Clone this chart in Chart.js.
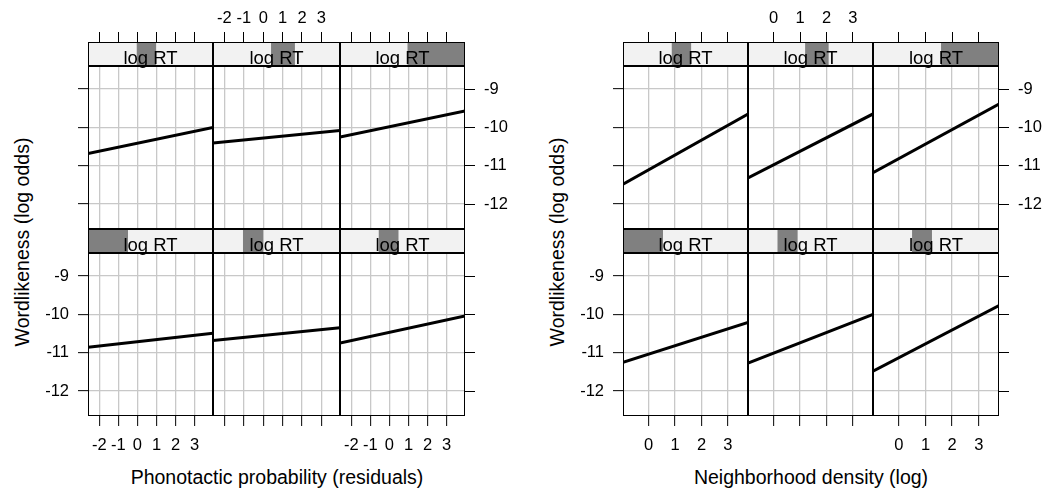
<!DOCTYPE html>
<html>
<head>
<meta charset="utf-8">
<script src="https://cdn.jsdelivr.net/npm/chart.js"></script>
<style>
  html, body { margin: 0; padding: 0; background: #fff; }
  #plot { position: relative; width: 1043px; height: 490px; overflow: hidden; font-family: "Liberation Sans", Arial, sans-serif; }
  #plot canvas { position: absolute; }
  .xlab, .ylab { position: absolute; font-size: 19.5px; line-height: 20px; white-space: nowrap; color: #000; }
  .xlab { transform: translateX(-50%); }
  .ylab { transform: translate(-50%, -50%) rotate(-90deg); }
</style>
</head>
<body>
<div id="plot"></div>
<script>
// log RT shingle levels (share of the log RT range), lattice order: bottom-left panel first
const shingleLevels = [[0, 0.32], [0.236, 0.397], [0.31, 0.468], [0.39, 0.545], [0.457, 0.645], [0.54, 1]];
const stripLabel = "log RT";

// fitted wordlikeness at the left and right end of each panel (same panel order)
const phonoRange = [-2.59, 3.96];
const phonoTicks = [-2, -1, 0, 1, 2, 3];
const phonoStart = [-10.86, -10.68, -10.75, -10.68, -10.41, -10.25];
const phonoEnd = [-10.49, -10.35, -10.04, -10.0, -10.08, -9.57];

const densRange = [-0.97, 3.76];
const densTicks = [0, 1, 2, 3];
const densStart = [-11.25, -11.27, -11.48, -11.48, -11.32, -11.18];
const densEnd = [-10.21, -10.0, -9.77, -9.65, -9.65, -9.39];

const yRange = [-12.65, -8.4];
const yTicks = [-12, -11, -10, -9];

const yTitle = "Wordlikeness (log odds)";

// layout
const ROW_TOP = [42, 229];
const STRIP_H = 24;
const PANEL_H = 163;
const GRID = "#c8c8c8";
const STRIP_BG = "#f2f2f2";
const STRIP_FG = "#808080";
const FONT = "'Liberation Sans', Arial, sans-serif";
const tickFont = { family: FONT, size: 16.5 };

const figures = [
  { colLeft: [88, 213, 340], colWidth: [125, 127, 125], range: phonoRange, ticks: phonoTicks,
    start: phonoStart, end: phonoEnd, xlab: "Phonotactic probability (residuals)", xlabX: 277, ylabX: 21.5 },
  { colLeft: [623, 748, 873], colWidth: [125, 125, 126], range: densRange, ticks: densTicks,
    start: densStart, end: densEnd, xlab: "Neighborhood density (log)", xlabX: 811, ylabX: 556.5 }
];

const host = document.getElementById("plot");

// fixed axis box size, and no extra label padding pushed into the chart area
const fixSize = (size) => (s) => {
  if (s.isHorizontal()) s.height = size; else s.width = size;
  s.paddingTop = s.paddingBottom = s.paddingLeft = s.paddingRight = 0;
};

function stripPlugin(level) {
  return {
    id: "strip",
    afterDraw(chart) {
      const s = chart.scales.strip, a = chart.chartArea, ctx = chart.ctx;
      const top = s.top, bottom = s.bottom;
      ctx.save();
      ctx.fillStyle = STRIP_BG;
      ctx.fillRect(a.left, top, a.right - a.left, bottom - top);
      const x0 = s.getPixelForValue(level[0]), x1 = s.getPixelForValue(level[1]);
      ctx.fillStyle = STRIP_FG;
      ctx.fillRect(x0, top, x1 - x0, bottom - top);
      ctx.fillStyle = "#000";
      ctx.font = "18.5px " + FONT;
      ctx.textAlign = "center";
      ctx.textBaseline = "alphabetic";
      ctx.fillText(stripLabel, (a.left + a.right) / 2, bottom - 2.5);
      // frames
      ctx.strokeStyle = "#000";
      ctx.lineWidth = 1;
      ctx.strokeRect(a.left + 0.5, top + 0.5, a.right - a.left - 1, bottom - top - 1);
      ctx.strokeRect(a.left + 0.5, a.top + 0.5, a.right - a.left - 1, a.bottom - a.top - 1);
      ctx.restore();
    }
  };
}

function makePanel(fig, row, col) {
  const idx = (1 - row) * 3 + col;
  const L = col === 0 ? 55 : 0, R = col === 2 ? 55 : 0;
  const T = row === 0 ? 42 : 0, B = row === 1 ? 45 : 0;
  const W = fig.colWidth[col];
  const canvas = document.createElement("canvas");
  canvas.width = L + W + R;
  canvas.height = T + STRIP_H + PANEL_H + B;
  canvas.style.left = (fig.colLeft[col] - L) + "px";
  canvas.style.top = (ROW_TOP[row] - T) + "px";
  host.appendChild(canvas);

  const setX = (s) => { s.ticks = fig.ticks.map(v => ({ value: v })); };
  const setY = (s) => { s.ticks = yTicks.map(v => ({ value: v })); };
  const fmt = (v) => String(v);

  const scales = {
    x: {
      type: "linear", position: "bottom", min: fig.range[0], max: fig.range[1],
      afterBuildTicks: setX, afterFit: fixSize(B),
      grid: { color: GRID, lineWidth: 1.3, drawTicks: row === 1, tickLength: 10, tickColor: "#000", tickWidth: 1 },
      border: { display: false },
      ticks: { display: row === 1 && col !== 1, autoSkip: false, maxRotation: 0, padding: 10, color: "#000", font: tickFont, callback: fmt }
    },
    strip: {
      type: "linear", position: "top", weight: 0, min: 0, max: 1,
      afterFit: fixSize(STRIP_H),
      grid: { display: false }, border: { display: false }, ticks: { display: false }
    },
    y: {
      type: "linear", position: "left", min: yRange[0], max: yRange[1],
      afterBuildTicks: setY, afterFit: fixSize(L),
      grid: { color: GRID, lineWidth: 1.3, drawTicks: col === 0, tickLength: 10, tickColor: "#000", tickWidth: 1 },
      border: { display: false },
      ticks: { display: col === 0 && row === 1, padding: 9, color: "#000", font: tickFont, callback: fmt }
    }
  };
  if (row === 0) {
    scales.xTop = {
      type: "linear", position: "top", weight: 1, min: fig.range[0], max: fig.range[1],
      afterBuildTicks: setX, afterFit: fixSize(T),
      grid: { drawOnChartArea: false, tickLength: 10, tickColor: "#000", tickWidth: 1 },
      border: { display: false },
      ticks: { display: col === 1, autoSkip: false, maxRotation: 0, padding: 4, color: "#000", font: tickFont, callback: fmt }
    };
  }
  if (col === 2) {
    scales.y2 = {
      type: "linear", position: "right", min: yRange[0], max: yRange[1],
      afterBuildTicks: setY, afterFit: fixSize(R),
      grid: { drawOnChartArea: false, tickLength: 10, tickColor: "#000", tickWidth: 1 },
      border: { display: false },
      ticks: { display: row === 0, padding: 9, color: "#000", font: tickFont, callback: fmt }
    };
  }

  new Chart(canvas, {
    type: "line",
    data: {
      datasets: [{
        data: [{ x: fig.range[0], y: fig.start[idx] }, { x: fig.range[1], y: fig.end[idx] }],
        borderColor: "#000", borderWidth: 3, pointRadius: 0, tension: 0, clip: 0
      }]
    },
    options: {
      responsive: false, animation: false, devicePixelRatio: 1, events: [],
      layout: { padding: 0, autoPadding: false },
      plugins: { legend: { display: false }, tooltip: { enabled: false } },
      scales
    },
    plugins: [stripPlugin(shingleLevels[idx])]
  });
}

figures.forEach(fig => {
  for (let row = 0; row < 2; row++) {
    for (let col = 0; col < 3; col++) makePanel(fig, row, col);
  }
  const xl = document.createElement("div");
  xl.className = "xlab";
  xl.textContent = fig.xlab;
  xl.style.left = fig.xlabX + "px";
  xl.style.top = "467px";
  host.appendChild(xl);
  const yl = document.createElement("div");
  yl.className = "ylab";
  yl.textContent = yTitle;
  yl.style.left = fig.ylabX + "px";
  yl.style.top = "241.5px";
  host.appendChild(yl);
});
</script>
</body>
</html>
